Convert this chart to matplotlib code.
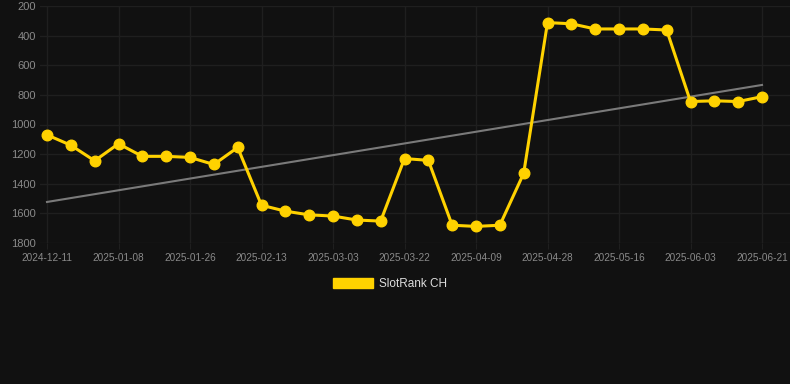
import matplotlib
matplotlib.use("Agg")
import matplotlib.pyplot as plt
from matplotlib.patches import Patch
import numpy as np

plt.rcParams['font.family'] = ['Liberation Sans', 'DejaVu Sans']

# Data
tick_labels = ["2024-12-11", "2025-01-08", "2025-01-26", "2025-02-13", "2025-03-03",
               "2025-03-22", "2025-04-09", "2025-04-28", "2025-05-16", "2025-06-03",
               "2025-06-21"]
rank_values = [1070, 1140, 1245, 1130, 1215, 1215, 1222, 1270, 1155, 1545,
               1585, 1610, 1618, 1645, 1652, 1230, 1242, 1680, 1688, 1680,
               1330, 312, 320, 355, 355, 355, 362, 845, 840, 845, 812]
trend_values = [1523, 733]
series_name = "SlotRank CH"
y_ticks = [200, 400, 600, 800, 1000, 1200, 1400, 1600, 1800]

bg = "#111111"
W, H = 790, 384
fig = plt.figure(figsize=(W / 100, H / 100), dpi=100, facecolor=bg)
left, right, top, bottom = 40, 790, 6, 243
ax = fig.add_axes([left / W, 1 - bottom / H, (right - left) / W, (bottom - top) / H])
ax.set_facecolor(bg)

n = len(rank_values)
x = np.arange(n)
px = (762 - 47) / (n - 1)
ax.set_xlim(-(47 - left) / px, (n - 1) + (right - 762) / px)
ax.set_ylim(1800, 200)

# trend line
ax.plot([x[0], x[-1]], trend_values, color="#7a7a7a", lw=1.5, zorder=2)
# main series
ax.plot(x, rank_values, color="#FFD200", lw=2.2, marker="o", markersize=7.6,
        markerfacecolor="#FFD200", markeredgecolor="#FFD200", zorder=3)

tick_pos = x[::3]
ax.set_xticks(tick_pos)
ax.set_xticklabels(tick_labels, fontsize=7.2, color="#8a8a8a")
ax.set_yticks(y_ticks)
ax.set_yticklabels([str(v) for v in y_ticks], fontsize=8, color="#8a8a8a")

ax.grid(True, color="#1f1f1f", lw=1.0)
ax.tick_params(axis="x", length=4, color="#1f1f1f", pad=3.5)
ax.tick_params(axis="y", length=0, pad=3)
for s in ax.spines.values():
    s.set_visible(False)

handle = Patch(facecolor="#FFD200", edgecolor="#FFD200")
leg = fig.legend([handle], [series_name], loc="center", bbox_to_anchor=(390 / W, 1 - 284 / H),
                 frameon=False, fontsize=8.5, labelcolor="#dddddd",
                 handlelength=3.4, handleheight=1.0, handletextpad=0.5)

fig.savefig("out.png", dpi=100, facecolor=bg)
